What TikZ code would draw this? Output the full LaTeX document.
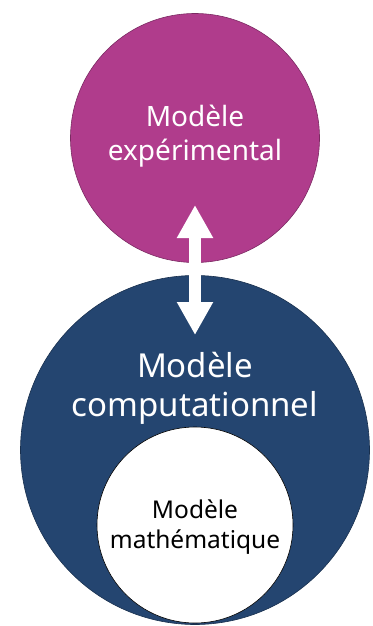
\documentclass[tikz,border=0pt]{standalone}
\usepackage{fontspec}
\setmainfont{Noto Sans}
\usetikzlibrary{arrows.meta}
\definecolor{magentac}{RGB}{176,60,140}
\definecolor{bluec}{RGB}{36,69,112}
\begin{document}
\begin{tikzpicture}[x=1pt,y=-1pt,
  circ/.style={circle,inner sep=0pt,draw=#1!70!black,line width=0.6pt},
  lbl/.style={align=center,inner sep=0pt}]
\useasboundingbox (0,0) rectangle (372,626);
\node[circ=magentac,fill=magentac,minimum size=249pt] (exp) at (195,138) {};
\node[circ=bluec,fill=bluec,minimum size=349pt] (comp) at (195,450) {};
\node[circ=black,fill=white,minimum size=196pt] (math) at (195,525) {};
\node[lbl,text=white,font=\fontsize{28}{34}\selectfont] (texp) at (195,136) {Modèle\\expérimental};
\node[lbl,text=white,font=\fontsize{33}{39}\selectfont] (tcomp) at (195,388) {Modèle\\computationnel};
\node[lbl,text=black,font=\fontsize{24.5}{30}\selectfont] (tmath) at (195,527) {Modèle\\mathématique};
\coordinate (atop) at (195,205);
\coordinate (abot) at (195,335);
\draw[white,line width=12pt,{Triangle[width=34pt,length=33pt]}-{Triangle[width=34pt,length=33pt]}] (atop) -- (abot);
\end{tikzpicture}
\end{document}
